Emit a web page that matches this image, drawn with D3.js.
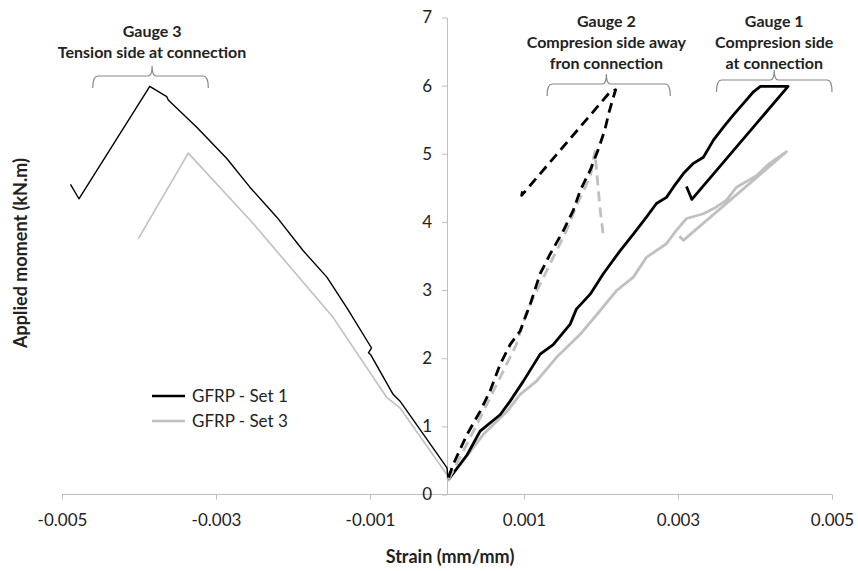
<!DOCTYPE html>
<html>
<head>
<meta charset="utf-8">
<script src="https://cdn.jsdelivr.net/npm/d3@7"></script>
<style>
  body { margin: 0; background: #fff; }
  text { font-family: Lato, "Open Sans", sans-serif; fill: #222; }
</style>
</head>
<body>
<svg id="chart" width="858" height="571"></svg>
<script>
// strain (mm/mm), moment (kN.m)
const set1Gauge1 = [
  [0.00002, 0.22], [0.00026, 0.58], [0.00043, 0.93], [0.00069, 1.17], [0.00082, 1.37],
  [0.00099, 1.66], [0.00121, 2.06], [0.00138, 2.2], [0.0016, 2.5], [0.00168, 2.72],
  [0.00186, 2.94], [0.00203, 3.24], [0.00225, 3.58], [0.00242, 3.82], [0.00259, 4.07],
  [0.00272, 4.27], [0.00285, 4.36], [0.00294, 4.51], [0.00307, 4.71], [0.0032, 4.86],
  [0.00333, 4.95], [0.00346, 5.2], [0.00359, 5.39], [0.00372, 5.57], [0.00385, 5.74],
  [0.00398, 5.91], [0.00407, 5.99], [0.00443, 5.99], [0.00318, 4.33], [0.00311, 4.52]
];
const set3Gauge1 = [
  [0.00001, 0.2], [0.00047, 0.88], [0.00078, 1.22], [0.00095, 1.47], [0.00116, 1.66],
  [0.00142, 2.01], [0.00173, 2.35], [0.00199, 2.7], [0.0022, 2.99], [0.00242, 3.19],
  [0.00259, 3.48], [0.00285, 3.68], [0.00296, 3.85], [0.00311, 4.05], [0.00333, 4.12],
  [0.0035, 4.22], [0.00363, 4.32], [0.00376, 4.51], [0.00402, 4.68], [0.00419, 4.86],
  [0.00441, 5.03], [0.00307, 3.73], [0.00302, 3.79]
];
const set1Gauge2 = [
  [0.00002, 0.25], [0.00008, 0.44], [0.00026, 0.88], [0.00043, 1.22], [0.00056, 1.52],
  [0.00069, 1.91], [0.00082, 2.2], [0.00095, 2.4], [0.00108, 2.79], [0.00121, 3.24],
  [0.00134, 3.53], [0.00151, 3.87], [0.00164, 4.17], [0.00173, 4.46], [0.00186, 4.76],
  [0.00196, 5.05], [0.00205, 5.35], [0.0021, 5.59], [0.00215, 5.79], [0.00219, 5.94],
  [0.00212, 5.91], [0.00097, 4.39], [0.00099, 4.5]
];
const set3Gauge2 = [
  [0.00002, 0.22], [0.0003, 0.83], [0.00056, 1.42], [0.00073, 1.81], [0.0009, 2.2],
  [0.00104, 2.7], [0.00121, 3.09], [0.00138, 3.48], [0.00155, 3.87], [0.00164, 4.12],
  [0.00173, 4.36], [0.00186, 4.66], [0.00192, 5.03], [0.00199, 4.17], [0.00203, 3.8]
];
const set1Gauge3 = [
  [0.00002, 0.22], [0.00001, 0.27], [0, 0.39], [-0.00018, 0.68], [-0.00061, 1.37],
  [-0.0007, 1.47], [-0.00099, 2.05], [-0.00102, 2.08], [-0.00098, 2.15], [-0.0013, 2.74],
  [-0.00156, 3.19], [-0.00187, 3.58], [-0.00221, 4.07], [-0.00256, 4.51], [-0.00286, 4.93],
  [-0.00325, 5.39], [-0.00362, 5.79], [-0.00364, 5.84], [-0.00386, 5.99], [-0.00478, 4.34],
  [-0.00489, 4.55]
];
const set3Gauge3 = [
  [0.00001, 0.2], [0, 0.29], [-0.00061, 1.27], [-0.00078, 1.42], [-0.00148, 2.6],
  [-0.00252, 3.98], [-0.00336, 5.01], [-0.00401, 3.75]
];

const xTicks = [-0.005, -0.003, -0.001, 0.001, 0.003, 0.005];
const yTicks = [0, 1, 2, 3, 4, 5, 6, 7];
const legendLabels = ["GFRP - Set 1", "GFRP - Set 3"];

const gauges = [
  { lines: ["Gauge 3", "Tension side at connection"], from: -0.0046, to: -0.0031, mid: -0.00383, top: 31, brace: 76 },
  { lines: ["Gauge 2", "Compresion side away", "fron connection"], from: 0.0013, to: 0.0029, mid: 0.00207, top: 21, brace: 84 },
  { lines: ["Gauge 1", "Compresion side", "at connection"], from: 0.0035, to: 0.005, mid: 0.00425, top: 21, brace: 80 }
];

const svg = d3.select("#chart");
const x = d3.scaleLinear().domain([-0.005, 0.005]).range([62, 832]);
const y = d3.scaleLinear().domain([0, 7]).range([494.5, 17.5]);
const black = "#000", grey = "#c0c0c0", axisGrey = "#bfbfbf";

// x axis along y = 0
const xAxis = svg.append("g")
  .attr("transform", `translate(0,${y(0)})`)
  .call(d3.axisBottom(x).tickValues(xTicks).tickSize(5).tickSizeOuter(0)
    .tickFormat(d => (d < 0 ? "-" : "") + Math.abs(d).toFixed(3)));
xAxis.select(".domain").attr("stroke", axisGrey).attr("d", `M${x(-0.005)},0H${x(0.005)}`);
xAxis.selectAll(".tick line").attr("stroke", axisGrey);
xAxis.selectAll(".tick text").attr("dy", 0).attr("y", 31)
  .style("font-size", "17px").style("font-family", "Lato, sans-serif").attr("fill", "#222");

// y axis along x = 0
const yAxis = svg.append("g")
  .attr("transform", `translate(${x(0)},0)`)
  .call(d3.axisLeft(y).tickValues(yTicks).tickSize(5).tickSizeOuter(0).tickFormat(d3.format("d")));
yAxis.select(".domain").attr("stroke", axisGrey);
yAxis.selectAll(".tick line").attr("stroke", axisGrey);
yAxis.selectAll(".tick text").attr("x", -15)
  .style("font-size", "17px").style("font-family", "Lato, sans-serif").attr("fill", "#222");

// titles
svg.append("text").attr("x", 450).attr("y", 563).attr("text-anchor", "middle")
  .style("font-size", "18px").style("font-weight", "bold").text("Strain (mm/mm)");
svg.append("text").attr("transform", "translate(27,253) rotate(-90)").attr("text-anchor", "middle")
  .style("font-size", "18px").style("font-weight", "bold").text("Applied moment (kN.m)");

// curves
const line = d3.line().x(d => x(d[0])).y(d => y(d[1]));
const curves = [
  { data: set3Gauge3, color: grey, width: 1.6 },
  { data: set1Gauge3, color: black, width: 1.4 },
  { data: set3Gauge1, color: grey, width: 2.8 },
  { data: set1Gauge1, color: black, width: 2.8 },
  { data: set3Gauge2, color: grey, width: 2.8, dash: "10,6" },
  { data: set1Gauge2, color: black, width: 2.8, dash: "10,6" }
];
svg.append("g").selectAll("path").data(curves).join("path")
  .attr("d", d => line(d.data))
  .attr("fill", "none")
  .attr("stroke", d => d.color)
  .attr("stroke-width", d => d.width)
  .attr("stroke-dasharray", d => d.dash || null)
  .attr("stroke-linejoin", "round");

// legend
const legend = svg.append("g").attr("transform", "translate(152,396)");
legendLabels.forEach((label, i) => {
  legend.append("line").attr("x1", 0).attr("x2", 33).attr("y1", i * 25).attr("y2", i * 25)
    .attr("stroke", i === 0 ? black : grey).attr("stroke-width", 2.5);
  legend.append("text").attr("x", 40).attr("y", i * 25 + 6)
    .style("font-size", "17px").text(label);
});

// gauge annotations with braces
gauges.forEach(g => {
  const a = x(g.from), b = x(g.to), m = x(g.mid), yb = g.brace;
  g.lines.forEach((t, i) => {
    svg.append("text").attr("x", m).attr("y", g.top + 6 + i * 21).attr("text-anchor", "middle")
      .style("font-size", "16px").style("font-weight", "bold").text(t);
  });
  svg.append("path")
    .attr("d", `M${a},${yb + 12} Q${a},${yb} ${a + 5},${yb} L${m - 4},${yb} Q${m},${yb} ${m},${yb - 10}` +
      ` Q${m},${yb} ${m + 4},${yb} L${b - 5},${yb} Q${b},${yb} ${b},${yb + 12}`)
    .attr("fill", "none").attr("stroke", "#888").attr("stroke-width", 1.2);
});
</script>
</body>
</html>
